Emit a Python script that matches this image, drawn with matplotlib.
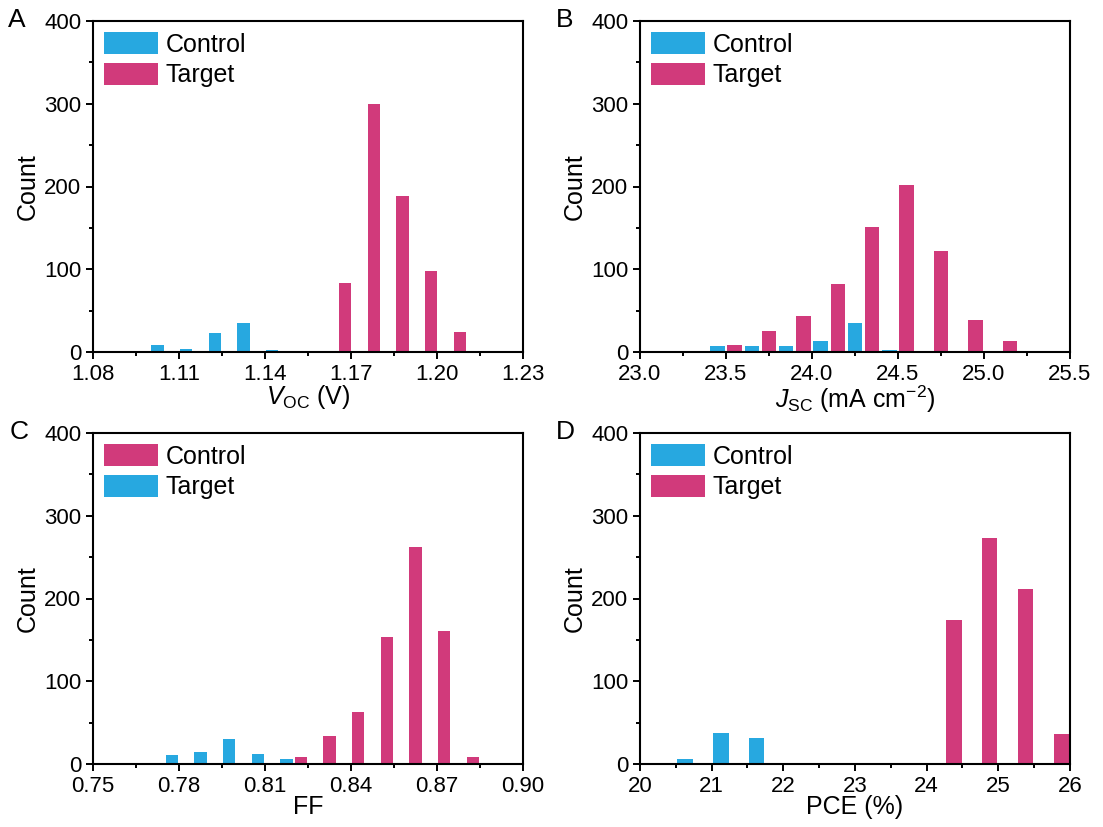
import matplotlib
matplotlib.use("Agg")
import matplotlib.pyplot as plt
from matplotlib.ticker import MultipleLocator, AutoMinorLocator

plt.rcParams["font.family"] = ["Liberation Sans", "DejaVu Sans"]
plt.rcParams["mathtext.fontset"] = "custom"
plt.rcParams["mathtext.rm"] = "Liberation Sans"
plt.rcParams["mathtext.it"] = "Liberation Sans:italic"

BLUE = "#27A8E0"
PINK = "#D13A7B"

# ── data ──────────────────────────────────────────────────────────────────
voc_ctrl_x = [1.1025, 1.1125, 1.1225, 1.1325, 1.1425]
voc_ctrl_n = [9, 4, 23, 35, 2]
voc_tgt_x = [1.168, 1.178, 1.188, 1.198, 1.208]
voc_tgt_n = [83, 300, 188, 98, 24]

jsc_ctrl_x = [23.45, 23.65, 23.85, 24.05, 24.25, 24.45]
jsc_ctrl_n = [7, 7, 7, 13, 35, 2]
jsc_tgt_x = [23.55, 23.75, 23.95, 24.15, 24.35, 24.55, 24.75, 24.95, 25.15]
jsc_tgt_n = [9, 25, 43, 82, 151, 202, 122, 39, 13]

ff_blue_x = [0.7775, 0.7875, 0.7975, 0.8075, 0.8175]
ff_blue_n = [11, 15, 30, 12, 6]
ff_pink_x = [0.8225, 0.8325, 0.8425, 0.8525, 0.8625, 0.8725, 0.8825]
ff_pink_n = [8, 34, 63, 153, 262, 161, 8]

pce_ctrl_x = [20.63, 21.13, 21.63]
pce_ctrl_n = [6, 38, 32]
pce_tgt_x = [24.38, 24.88, 25.38, 25.88]
pce_tgt_n = [174, 273, 212, 36]

fig = plt.figure(figsize=(11.03, 8.27), dpi=100)
W, H = 1103, 827

def make_ax(x0, x1, y_top, y_bot):
    return fig.add_axes([x0 / W, 1 - y_bot / H, (x1 - x0) / W, (y_bot - y_top) / H])

axA = make_ax(93, 523, 21, 352)
axB = make_ax(640, 1070, 21, 352)
axC = make_ax(93, 523, 433, 764)
axD = make_ax(640, 1070, 433, 764)

def style(ax, xlim, xmajor, xlabel, fmt):
    ax.set_xlim(*xlim)
    ax.set_ylim(0, 400)
    ax.xaxis.set_major_locator(MultipleLocator(xmajor))
    ax.xaxis.set_minor_locator(AutoMinorLocator(2))
    ax.yaxis.set_major_locator(MultipleLocator(100))
    ax.yaxis.set_minor_locator(AutoMinorLocator(2))
    ax.xaxis.set_major_formatter(fmt)
    ax.tick_params(which="major", direction="out", length=5, width=1.4, labelsize=16)
    ax.tick_params(which="minor", direction="out", length=3, width=1.4)
    for s in ax.spines.values():
        s.set_linewidth(1.5)
    ax.set_xlabel(xlabel, fontsize=18, labelpad=-1)
    ax.set_ylabel("Count", fontsize=18, labelpad=3)

def legend(ax, handles):
    ax.legend(handles=handles, loc="upper left", frameon=False, fontsize=18,
              handlelength=2.15, handleheight=0.96, handletextpad=0.3,
              labelspacing=0.25, borderaxespad=0.15, borderpad=0.3)

# A
c = axA.bar(voc_ctrl_x, voc_ctrl_n, width=0.0043, color=BLUE, label="Control")
t = axA.bar(voc_tgt_x, voc_tgt_n, width=0.0043, color=PINK, label="Target")
style(axA, (1.08, 1.23), 0.03, r"$V_{\mathrm{OC}}$ (V)", "{x:.2f}")
legend(axA, [c, t])

# B
c = axB.bar(jsc_ctrl_x, jsc_ctrl_n, width=0.084, color=BLUE, label="Control")
t = axB.bar(jsc_tgt_x, jsc_tgt_n, width=0.084, color=PINK, label="Target")
style(axB, (23.0, 25.5), 0.5, r"$J_{\mathrm{SC}}$ (mA cm$^{\mathrm{-2}}$)", "{x:.1f}")
legend(axB, [c, t])

# C (legend colours are swapped in the original)
b = axC.bar(ff_blue_x, ff_blue_n, width=0.0042, color=BLUE, label="Target")
p = axC.bar(ff_pink_x, ff_pink_n, width=0.0042, color=PINK, label="Control")
style(axC, (0.75, 0.90), 0.03, "FF", "{x:.2f}")
legend(axC, [p, b])

# D
c = axD.bar(pce_ctrl_x, pce_ctrl_n, width=0.214, color=BLUE, label="Control")
t = axD.bar(pce_tgt_x, pce_tgt_n, width=0.214, color=PINK, label="Target")
style(axD, (20, 26), 1, "PCE (%)", "{x:.0f}")
legend(axD, [c, t])

for letter, x, y in [("A", 8, 20), ("B", 556, 20), ("C", 10, 432), ("D", 556, 432)]:
    fig.text(x / W, 1 - y / H, letter, fontsize=19, ha="left", va="center")

fig.savefig("out.png", dpi=100)
